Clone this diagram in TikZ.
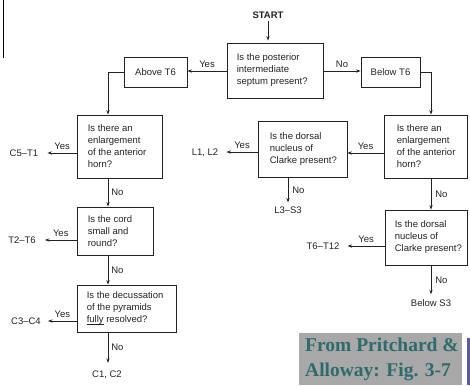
\documentclass[tikz,border=0pt]{standalone}
\usepackage{fontspec}
\setmainfont{Liberation Sans}
\newfontfamily\wmfont{Liberation Serif}
\usetikzlibrary{arrows.meta}
\definecolor{ink}{HTML}{222222}
\definecolor{wmgray}{HTML}{A8A8A8}
\definecolor{wmteal}{HTML}{2E6B6B}
\definecolor{wmbar}{HTML}{5B5B99}
\newcommand{\myul}[1]{{\setbox0\hbox{#1}\rlap{\rule[-1.6pt]{\wd0}{0.5pt}}\box0}}
\begin{document}
\begin{tikzpicture}[x=1pt,y=-1pt,
  every node/.style={font=\fontsize{9.5}{12}\selectfont, text=ink},
  qbox/.style={draw=ink, line width=0.8pt, inner sep=0pt},
  qtext/.style={align=left, anchor=west, inner sep=0pt},
  arr/.style={draw=ink, line width=0.7pt, -{Stealth[length=4.5pt,width=3.2pt]}},
  lbl/.style={inner sep=2pt}]
\useasboundingbox (0,0) rectangle (470,385);

% column coordinates
\coordinate (col1) at (108,0);
\coordinate (col2) at (431,0);

% top-left rule
\draw[line width=1.5pt, black] (3.5,0) -- (3.5,58);

% nodes
\node[lbl, font=\bfseries\fontsize{9.5}{12}\selectfont] (start) at (268,15) {START};

\node[qbox, minimum width=96pt, minimum height=55pt] (q1) at (275,70.5) {};
\node[qtext] (q1t) at ([xshift=10pt]q1.west) {Is the posterior\\intermediate\\septum present?};

\node[qbox, minimum width=63pt, minimum height=30pt] (above) at (155.5,72) {Above T6};
\node[qbox, minimum width=59pt, minimum height=30pt] (below) at (390.5,72) {Below T6};

\node[qbox, minimum width=85pt, minimum height=63pt] (qa) at (119.5,146.5) {};
\node[qtext] (qat) at ([xshift=11pt]qa.west) {Is there an\\enlargement\\of the anterior\\horn?};

\node[qbox, minimum width=76pt, minimum height=48pt] (qb) at (115,231) {};
\node[qtext] (qbt) at ([xshift=11pt]qb.west) {Is the cord\\small and\\round?};

\node[qbox, minimum width=99pt, minimum height=47pt] (qc) at (126.5,308.5) {};
\node[qtext] (qct) at ([xshift=10pt]qc.west) {Is the decussation\\of the pyramids\\\myul{fully} resolved?};

\node[qbox, minimum width=83pt, minimum height=63pt] (qd) at (425.5,146.5) {};
\node[qtext] (qdt) at ([xshift=13pt]qd.west) {Is there an\\enlargement\\of the anterior\\horn?};

\node[qbox, minimum width=89pt, minimum height=56pt] (qe) at (302.5,149) {};
\node[qtext] (qet) at ([xshift=12pt]qe.west) {Is the dorsal\\nucleus of\\Clarke present?};

\node[qbox, minimum width=82pt, minimum height=55pt] (qf) at (426,237.5) {};
\node[qtext] (qft) at ([xshift=10pt]qf.west) {Is the dorsal\\nucleus of\\Clarke present?};

% outcome labels
\node[lbl] (c5t1) at (24,153) {C5--T1};
\node[lbl] (t2t6) at (22,240) {T2--T6};
\node[lbl] (c3c4) at (26,321) {C3--C4};
\node[lbl] (c1c2) at (107,375) {C1, C2};
\node[lbl] (l1l2) at (205,153) {L1, L2};
\node[lbl] (l3s3) at (288,210) {L3--S3};
\node[lbl] (t6t12) at (323,246) {T6--T12};
\node[lbl] (bs3) at (431,303) {Below S3};

% connectors
\draw[arr] (start.south) -- ([yshift=2pt]q1.north -| start);
\draw[arr] (q1.west |- 0,71) -- node[above, lbl, yshift=1pt] {Yes} (above.east |- 0,71);
\draw[arr] (q1.east |- 0,71) -- node[above, lbl, yshift=1pt] {No} (below.west |- 0,71);
\draw[arr] (above.west) -| (qa.north -| col1);
\draw[arr] (below.east) -| (qd.north -| col2);

\draw[arr] (qa.west |- c5t1) -- node[above, lbl, yshift=1.5pt] {Yes} ([xshift=7pt]c5t1.east);
\draw[arr] (qa.south -| col1) -- node[right, lbl, xshift=1pt] {No} (qb.north -| col1);
\draw[arr] (qb.west |- t2t6) -- node[above, lbl, yshift=1.5pt] {Yes} ([xshift=7pt]t2t6.east);
\draw[arr] (qb.south -| col1) -- node[right, lbl, xshift=1pt] {No} (qc.north -| col1);
\draw[arr] (qc.west |- c3c4) -- node[above, lbl, yshift=1.5pt] {Yes} ([xshift=5pt]c3c4.east);
\draw[arr] (qc.south -| col1) -- node[right, lbl, xshift=1pt] {No} ([yshift=6pt]c1c2.north -| col1);

\draw[arr] (qd.west |- 0,153) -- node[above, lbl, yshift=1pt] {Yes} (qe.east |- 0,153);
\draw[arr] (qe.west |- 0,152) -- node[above, lbl, yshift=1pt] {Yes} ([xshift=6pt]l1l2.east |- 0,152);
\draw[arr] (qe.south -| l3s3) -- node[right, lbl, xshift=2pt] {No} ([yshift=2pt]l3s3.north);
\draw[arr] (qd.south -| col2) -- node[right, lbl, xshift=2pt] {No} (qf.north -| col2);
\draw[arr] (qf.west |- t6t12) -- node[above, lbl, yshift=1pt] {Yes} ([xshift=6pt]t6t12.east);
\draw[arr] (qf.south -| col2) -- node[right, lbl, xshift=2pt] {No} ([yshift=3pt]bs3.north -| col2);

% watermark
\fill[wmgray] (299,333) rectangle (462,385);
\fill[wmbar] (466.5,338) rectangle (470,385);
\node[anchor=west, align=left, inner sep=0pt, text=wmteal,
  font=\wmfont\bfseries\fontsize{19.5}{25}\selectfont] (wm) at (305,359.5)
  {From Pritchard \&\\Alloway: Fig. 3-7};
\end{tikzpicture}
\end{document}
